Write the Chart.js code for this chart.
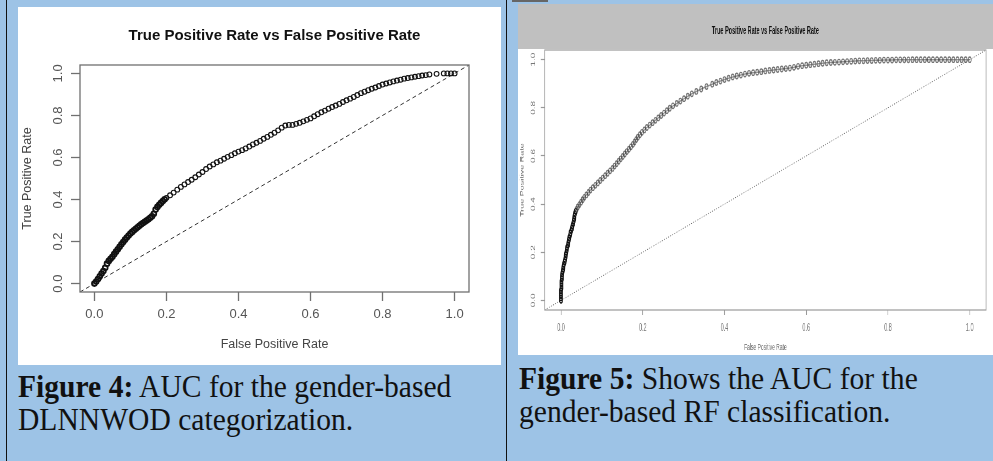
<!DOCTYPE html>
<html>
<head>
<meta charset="utf-8">
<script src="https://cdn.jsdelivr.net/npm/chart.js"></script>
<style>
  html, body { margin: 0; padding: 0; }
  body { width: 993px; height: 461px; background: #9dc3e6; position: relative; overflow: hidden; }
  .vline { position: absolute; top: 0; width: 1.5px; height: 461px; background: #111; }
  .panel { position: absolute; background: #fff; }
  .band { position: absolute; background: #c0c0c0; }
  .cap { position: absolute; font-family: 'Liberation Serif', 'Times New Roman', serif; font-size: 29px; line-height: 30px; color: #111; white-space: nowrap; transform: scale(1.02, 1.1); transform-origin: 0 0; }
  .cap b { font-weight: bold; }
  canvas { position: absolute; }
</style>
</head>
<body>
<div class="vline" style="left:5.5px"></div>
<div class="vline" style="left:505.5px"></div>
<div style="position:absolute;left:512px;top:0;width:36px;height:2px;background:#666"></div>

<!-- 왼쪽 그림 (Figure 4) -->
<div class="panel" style="left:18px;top:7px;width:483px;height:358px"></div>
<canvas id="fig4" width="483" height="358" style="left:18px;top:7px"></canvas>

<!-- 오른쪽 그림 (Figure 5) : 원본처럼 가로로 눌린 모양 -->
<div class="panel" style="left:518px;top:4px;width:475px;height:351px"></div>
<div class="band" style="left:518px;top:4px;width:475px;height:45px"></div>
<canvas id="fig5" width="864" height="350" style="left:518px;top:5px;transform:scaleX(0.55);transform-origin:0 0"></canvas>

<div class="cap" style="left:18px;top:368.5px"><b>Figure 4:</b> AUC for the gender-based<br>DLNNWOD categorization.</div>
<div class="cap" style="left:519px;top:360.5px"><b>Figure 5:</b> Shows the AUC for the<br>gender-based RF classification.</div>

<script>
// 축 눈금
const tickVals = [0, 0.2, 0.4, 0.6, 0.8, 1.0];
const axisMin = -0.04;
const axisMax = 1.04;

// Figure 4 : DLNNWOD ROC
const fpr4 = [0,0.005,0.01,0.015,0.02,0.025,0.03,0.035,0.04,0.045,
  0.05,0.055,0.06,0.065,0.07,0.075,0.08,0.085,0.09,0.095,
  0.1,0.105,0.11,0.115,0.12,0.125,0.13,0.135,0.14,0.145,
  0.15,0.155,0.16,0.165,0.17,0.175,0.18,0.185,0.19,0.195,
  0.2,0.21,0.22,0.23,0.24,0.25,0.26,0.27,0.28,0.29,
  0.30,0.31,0.32,0.33,0.34,0.35,0.36,0.37,0.38,0.39,
  0.40,0.41,0.42,0.43,0.44,0.45,0.46,0.47,0.48,0.49,
  0.50,0.51,0.52,0.53,0.54,0.55,0.56,0.57,0.58,0.59,
  0.60,0.61,0.62,0.63,0.64,0.65,0.66,0.67,0.68,0.69,
  0.70,0.71,0.72,0.73,0.74,0.75,0.76,0.77,0.78,0.79,
  0.80,0.81,0.82,0.83,0.84,0.85,0.86,0.87,0.88,0.89,
  0.90,0.91,0.92,0.93,0.95,0.97,0.98,0.99,1.0];
const tpr4 = [0.000,0.010,0.022,0.035,0.048,0.060,0.075,0.095,0.108,0.118,
  0.128,0.140,0.152,0.163,0.175,0.187,0.198,0.209,0.219,0.229,
  0.238,0.246,0.254,0.261,0.268,0.275,0.282,0.288,0.294,0.300,
  0.306,0.313,0.320,0.332,0.352,0.365,0.375,0.384,0.393,0.401,
  0.408,0.420,0.433,0.447,0.460,0.472,0.483,0.494,0.506,0.519,
  0.531,0.545,0.557,0.567,0.577,0.585,0.594,0.603,0.611,0.620,
  0.628,0.635,0.643,0.652,0.662,0.670,0.679,0.689,0.698,0.708,
  0.718,0.729,0.742,0.752,0.755,0.755,0.760,0.765,0.772,0.779,
  0.786,0.796,0.806,0.815,0.823,0.832,0.840,0.847,0.855,0.864,
  0.872,0.880,0.888,0.897,0.906,0.913,0.920,0.927,0.933,0.940,
  0.947,0.952,0.957,0.962,0.966,0.970,0.975,0.978,0.981,0.984,
  0.987,0.990,0.992,0.995,0.998,1.0,1.0,1.0,1.0];

// Figure 5 : RF ROC
const fpr5 = [0,0,0,0,0,0.001,0.001,0.001,0.001,0.002,
  0.002,0.003,0.004,0.005,0.006,0.007,0.009,0.010,0.011,0.012,
  0.013,0.014,0.015,0.017,0.018,0.019,0.020,0.022,0.023,0.025,
  0.027,0.028,0.030,0.031,0.032,0.033,0.034,0.036,0.038,0.041,
  0.045,0.049,0.053,0.057,0.062,0.067,0.072,0.078,0.084,0.090,
  0.096,0.102,0.108,0.114,0.120,0.126,0.131,0.136,0.141,0.146,
  0.151,0.156,0.161,0.166,0.171,0.176,0.180,0.184,0.188,0.193,
  0.198,0.204,0.210,0.217,0.224,0.231,0.238,0.245,0.252,0.259,
  0.266,0.274,0.283,0.292,0.301,0.310,0.320,0.331,0.343,0.356,
  0.370,0.38,0.39,0.40,0.41,0.42,0.43,0.44,0.45,0.46,
  0.47,0.48,0.49,0.50,0.51,0.52,0.53,0.54,0.55,0.56,
  0.57,0.58,0.59,0.60,0.61,0.62,0.63,0.64,0.65,0.66,
  0.67,0.68,0.69,0.70,0.71,0.72,0.73,0.74,0.75,0.76,
  0.77,0.78,0.79,0.80,0.81,0.82,0.83,0.84,0.85,0.86,
  0.87,0.88,0.89,0.90,0.91,0.92,0.93,0.94,0.95,0.96,
  0.97,0.98,0.99,1.00];
const tpr5 = [0,0.01,0.02,0.03,0.04,0.05,0.06,0.07,0.08,0.09,
  0.10,0.11,0.12,0.13,0.14,0.15,0.16,0.17,0.18,0.19,
  0.20,0.21,0.22,0.23,0.24,0.25,0.26,0.27,0.28,0.29,
  0.30,0.31,0.32,0.33,0.34,0.35,0.36,0.37,0.378,0.388,
  0.398,0.408,0.418,0.428,0.438,0.448,0.458,0.468,0.478,0.488,
  0.498,0.508,0.518,0.528,0.538,0.548,0.558,0.568,0.578,0.588,
  0.598,0.608,0.618,0.628,0.638,0.648,0.658,0.668,0.678,0.688,
  0.698,0.708,0.718,0.728,0.738,0.748,0.758,0.768,0.778,0.788,
  0.798,0.808,0.818,0.828,0.838,0.848,0.858,0.868,0.878,0.888,
  0.898,0.905,0.911,0.917,0.923,0.928,0.932,0.936,0.940,0.943,
  0.946,0.948,0.950,0.953,0.955,0.957,0.959,0.961,0.963,0.965,
  0.968,0.972,0.975,0.977,0.979,0.981,0.983,0.985,0.987,0.988,
  0.989,0.990,0.991,0.992,0.993,0.994,0.995,0.995,0.996,0.996,
  0.997,0.997,0.998,0.998,0.998,0.999,0.999,0.999,0.999,1.0,
  1.0,1.0,1.0,1.0,1.0,1.0,1.0,1.0,1.0,1.0,
  1.0,1.0,1.0,1.0];

const diagX = [axisMin, axisMax];
const diagY = [axisMin, axisMax];

function toPoints(xs, ys) {
  const n = Math.min(xs.length, ys.length);
  const out = [];
  for (let i = 0; i < n; i++) out.push({x: xs[i], y: ys[i]});
  return out;
}

// 플롯 영역 테두리 (R 의 box())
const boxPlugin = {
  id: 'box',
  afterDatasetsDraw(chart, args, opts) {
    const a = chart.chartArea, ctx = chart.ctx;
    ctx.save();
    ctx.strokeStyle = opts.color;
    ctx.lineWidth = opts.width;
    ctx.strokeRect(a.left, a.top, a.right - a.left, a.bottom - a.top);
    ctx.restore();
  }
};

function setTicks(scale) {
  scale.ticks = tickVals.map(v => ({value: v}));
}

function makeChart(id, cfg) {
  const family = "'Liberation Sans', Arial, sans-serif";
  return new Chart(document.getElementById(id), {
    type: 'scatter',
    data: {
      datasets: [
        Object.assign({
          data: toPoints(cfg.xs, cfg.ys),
          pointStyle: 'circle',
          backgroundColor: 'rgba(0,0,0,0)',
          order: 1
        }, cfg.curve),
        {
          data: toPoints(diagX, diagY),
          showLine: true,
          pointRadius: 0,
          borderColor: cfg.diagColor,
          borderWidth: 1,
          borderDash: cfg.diagDash,
          order: 2
        }
      ]
    },
    options: {
      responsive: false,
      animation: false,
      events: [],
      layout: {padding: {left: 0, top: 0, right: cfg.padRight, bottom: 0}},
      plugins: {
        legend: {display: false},
        tooltip: {enabled: false},
        title: {
          display: true,
          text: 'True Positive Rate vs False Positive Rate',
          fullSize: false,
          color: cfg.titleColor,
          font: {family: family, size: cfg.titleSize, weight: 'bold', lineHeight: 1.2},
          padding: cfg.titlePad
        },
        box: {color: cfg.boxColor, width: cfg.boxWidth}
      },
      scales: {
        x: {
          type: 'linear',
          position: 'bottom',
          min: axisMin,
          max: axisMax,
          afterBuildTicks: setTicks,
          afterFit: s => { s.height = cfg.xHeight; },
          border: {display: false},
          grid: {drawOnChartArea: false, drawTicks: true, tickLength: cfg.xTickLen, tickColor: cfg.boxColor, tickWidth: cfg.boxWidth},
          ticks: {
            color: cfg.tickColor,
            font: {family: family, size: cfg.tickSize},
            padding: cfg.xTickPad,
            maxRotation: 0,
            callback: v => Number(v).toFixed(1)
          },
          title: {
            display: true,
            text: 'False Positive Rate',
            color: cfg.labelColor,
            font: {family: family, size: cfg.labelSize, lineHeight: 1.2},
            padding: {top: 0, bottom: cfg.xTitlePad}
          }
        },
        y: {
          type: 'linear',
          position: 'left',
          min: axisMin,
          max: axisMax,
          afterBuildTicks: setTicks,
          afterFit: s => { s.width = cfg.yWidth; },
          border: {display: false},
          grid: {drawOnChartArea: false, drawTicks: true, tickLength: cfg.yTickLen, tickColor: cfg.boxColor, tickWidth: cfg.boxWidth},
          ticks: {
            color: cfg.tickColor,
            font: {family: family, size: cfg.tickSize},
            padding: cfg.yTickPad,
            minRotation: 90,
            maxRotation: 90,
            crossAlign: 'center',
            callback: v => Number(v).toFixed(1)
          },
          title: {
            display: true,
            text: 'True Positive Rate',
            color: cfg.labelColor,
            font: {family: family, size: cfg.labelSize, lineHeight: 1.2},
            padding: {top: cfg.yTitlePad, bottom: 0}
          }
        }
      }
    },
    plugins: [boxPlugin]
  });
}

makeChart('fig4', {
  xs: fpr4, ys: tpr4,
  // 앞쪽은 점이 겹쳐서 진하게 보임
  curve: {pointRadius: 2.4, borderColor: '#111', showLine: false,
          pointBorderWidth: c => (c.raw && c.raw.x < 0.2 ? 1.8 : 1.1)},
  diagColor: '#333', diagDash: [4, 3],
  padRight: 32,
  titleColor: '#111', titleSize: 15, titlePad: {top: 20, bottom: 20},
  boxColor: '#707070', boxWidth: 1.3,
  xHeight: 73, xTickLen: 9, xTickPad: 6, xTitlePad: 12.5,
  yWidth: 62, yTickLen: 9, yTickPad: 4, yTitlePad: 2.5,
  tickColor: '#555', tickSize: 13,
  labelColor: '#444', labelSize: 12.5
});

makeChart('fig5', {
  xs: fpr5, ys: tpr5,
  curve: {pointRadius: 2.7, pointBorderWidth: 1.4,
          pointBorderColor: c => (c.raw && c.raw.x < 0.037 ? '#111' : 'rgba(60,60,60,0.7)'),
          showLine: true, borderWidth: 1.5, borderColor: 'rgba(80,80,80,0.6)'},
  diagColor: '#666', diagDash: [1.5, 2.5],
  padRight: 13,
  titleColor: '#111', titleSize: 10, titlePad: {top: 20, bottom: 13},
  boxColor: '#999', boxWidth: 1.2,
  xHeight: 45, xTickLen: 5, xTickPad: 7, xTitlePad: 1.9,
  yWidth: 48.5, yTickLen: 7, yTickPad: 6.6, yTitlePad: 2.2,
  tickColor: '#777', tickSize: 10,
  labelColor: '#666', labelSize: 9
});
</script>
</body>
</html>
